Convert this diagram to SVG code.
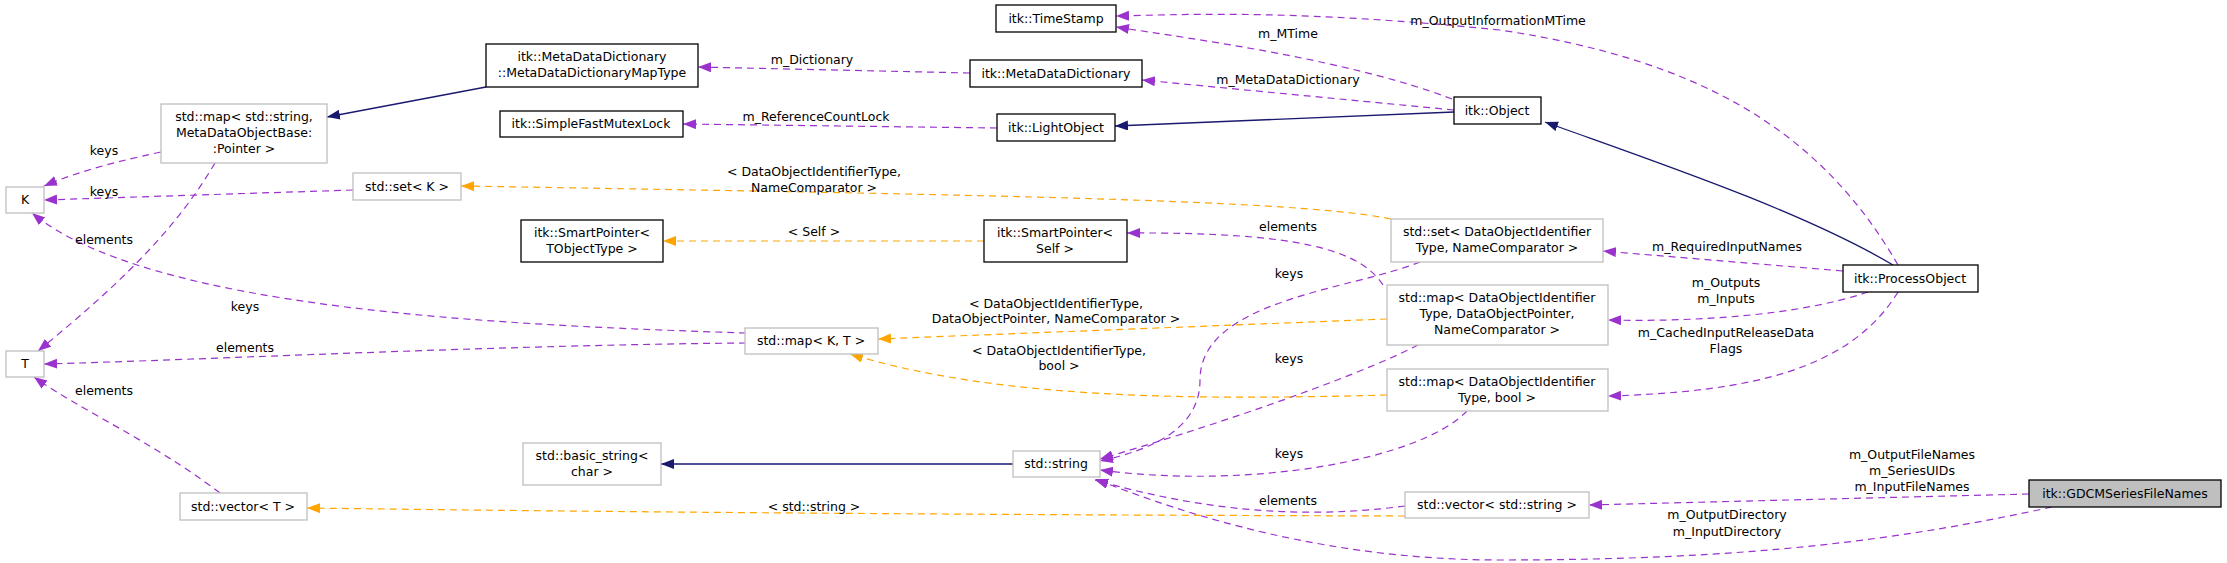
<svg xmlns="http://www.w3.org/2000/svg" width="2227" height="563" viewBox="0 0 2227 563">
<style>
text{font-family:"DejaVu Sans","Liberation Sans",sans-serif;font-size:12.5px;fill:#000}
.n text{text-anchor:middle}
.l{text-anchor:middle}
.b{fill:#fff;stroke:#000;stroke-width:1.3}
.g{fill:#fff;stroke:#bfbfbf;stroke-width:1.3}
.cur{fill:#bfbfbf;stroke:#000;stroke-width:1.3}
.p{fill:none;stroke:#9a32cd;stroke-width:1.2;stroke-dasharray:7,5;marker-end:url(#ap)}
.o{fill:none;stroke:#ffa500;stroke-width:1.2;stroke-dasharray:7,5;marker-end:url(#ao)}
.v{fill:none;stroke:#191970;stroke-width:1.3;marker-end:url(#av)}
</style>
<defs>
<marker id="ap" markerUnits="userSpaceOnUse" markerWidth="14" markerHeight="12" refX="13" refY="5" orient="auto"><path d="M0,0L13,5L0,10Z" fill="#9a32cd"/></marker>
<marker id="ao" markerUnits="userSpaceOnUse" markerWidth="14" markerHeight="12" refX="13" refY="5" orient="auto"><path d="M0,0L13,5L0,10Z" fill="#ffa500"/></marker>
<marker id="av" markerUnits="userSpaceOnUse" markerWidth="14" markerHeight="12" refX="13" refY="5" orient="auto"><path d="M0,0L13,5L0,10Z" fill="#191970"/></marker>
</defs>
<rect width="2227" height="563" fill="#fff"/>
<g id="connectors">
<path class="p" d="M970,73 L698,67"/>
<path class="v" d="M486,87 L327,117"/>
<path class="p" d="M997,128 L683,124"/>
<path class="p" d="M1452,99 C1350,60 1200,40 1116,27"/>
<path class="p" d="M1454,110 L1142,80"/>
<path class="v" d="M1454,112 L1115,126"/>
<path class="v" d="M1893,265 C1800,210 1650,160 1545,122"/>
<path class="p" d="M1898,265 C1820,130 1700,60 1500,30 C1300,10 1200,14 1116,16"/>
<path class="p" d="M1843,271 L1603,251"/>
<path class="p" d="M1868,292 C1800,315 1700,322 1608,320"/>
<path class="p" d="M1898,292 C1850,370 1750,392 1608,396"/>
<path class="p" d="M2029,494 L1589,505"/>
<path class="p" d="M2052,507 C1900,540 1750,560 1500,560 C1300,560 1150,500 1095,479"/>
<path class="o" d="M1391,219 C1300,200 1000,195 461,186"/>
<path class="p" d="M1383,285 C1360,250 1300,232 1127,233"/>
<path class="p" d="M1420,262 C1350,290 1200,300 1200,380 C1200,430 1150,450 1100,461"/>
<path class="p" d="M1418,345 C1350,380 1200,430 1100,459"/>
<path class="p" d="M1467,411 C1420,460 1250,490 1100,470"/>
<path class="p" d="M1405,506 C1300,520 1200,510 1095,480"/>
<path class="o" d="M984,241 L663,241"/>
<path class="o" d="M1387,319 L878,339"/>
<path class="o" d="M1387,395 C1200,400 1000,400 850,354"/>
<path class="v" d="M1013,464 L661,464"/>
<path class="o" d="M1405,516 C1000,515 600,512 307,508"/>
<path class="p" d="M353,190 L44,200"/>
<path class="p" d="M161,152 C100,165 70,175 44,186"/>
<path class="p" d="M215,163 C170,240 100,300 38,351"/>
<path class="p" d="M746,333 C500,325 150,310 32,213"/>
<path class="p" d="M746,343 C500,345 200,360 44,364"/>
<path class="p" d="M220,493 C150,440 80,410 34,377"/>
</g>
<g id="edge-labels">
<text class="l" x="812" y="64">m_Dictionary</text>
<text class="l" x="816" y="121">m_ReferenceCountLock</text>
<text class="l" x="1288" y="38">m_MTime</text>
<text class="l" x="1288" y="84">m_MetaDataDictionary</text>
<text class="l" x="1498" y="25">m_OutputInformationMTime</text>
<text class="l" x="814" y="176">&lt; DataObjectIdentifierType,</text>
<text class="l" x="814" y="192">NameComparator &gt;</text>
<text class="l" x="814" y="236">&lt; Self &gt;</text>
<text class="l" x="1288" y="231">elements</text>
<text class="l" x="1289" y="278">keys</text>
<text class="l" x="1727" y="251">m_RequiredInputNames</text>
<text class="l" x="1726" y="287">m_Outputs</text>
<text class="l" x="1726" y="303">m_Inputs</text>
<text class="l" x="1726" y="337">m_CachedInputReleaseData</text>
<text class="l" x="1726" y="353">Flags</text>
<text class="l" x="1056" y="308">&lt; DataObjectIdentifierType,</text>
<text class="l" x="1056" y="323">DataObjectPointer, NameComparator &gt;</text>
<text class="l" x="1059" y="355">&lt; DataObjectIdentifierType,</text>
<text class="l" x="1059" y="370">bool &gt;</text>
<text class="l" x="1289" y="363">keys</text>
<text class="l" x="1289" y="458">keys</text>
<text class="l" x="1288" y="505">elements</text>
<text class="l" x="814" y="511">&lt; std::string &gt;</text>
<text class="l" x="1912" y="459">m_OutputFileNames</text>
<text class="l" x="1912" y="475">m_SeriesUIDs</text>
<text class="l" x="1912" y="491">m_InputFileNames</text>
<text class="l" x="1727" y="519">m_OutputDirectory</text>
<text class="l" x="1727" y="536">m_InputDirectory</text>
<text class="l" x="104" y="155">keys</text>
<text class="l" x="104" y="196">keys</text>
<text class="l" x="104" y="244">elements</text>
<text class="l" x="245" y="311">keys</text>
<text class="l" x="245" y="352">elements</text>
<text class="l" x="104" y="395">elements</text>
</g>
<g id="n-maptype" class="n"><rect class="b" x="486" y="44" width="212" height="43"/><text x="592" y="61">itk::MetaDataDictionary</text><text x="592" y="77">::MetaDataDictionaryMapType</text></g>
<g id="n-stdmap-string" class="n"><rect class="g" x="161" y="104" width="166" height="59"/><text x="244" y="121">std::map&lt; std::string,</text><text x="244" y="137">MetaDataObjectBase:</text><text x="244" y="153">:Pointer &gt;</text></g>
<g id="n-K" class="n"><rect class="g" x="6" y="187" width="38" height="26"/><text x="25" y="204">K</text></g>
<g id="n-T" class="n"><rect class="g" x="6" y="351" width="38" height="26"/><text x="25" y="368">T</text></g>
<g id="n-mutex" class="n"><rect class="b" x="500" y="111" width="183" height="26"/><text x="591" y="128">itk::SimpleFastMutexLock</text></g>
<g id="n-setK" class="n"><rect class="g" x="353" y="173" width="108" height="27"/><text x="407" y="191">std::set&lt; K &gt;</text></g>
<g id="n-sp-tobj" class="n"><rect class="b" x="521" y="220" width="142" height="42"/><text x="592" y="237">itk::SmartPointer&lt;</text><text x="592" y="253">TObjectType &gt;</text></g>
<g id="n-basicstring" class="n"><rect class="g" x="523" y="443" width="138" height="42"/><text x="592" y="460">std::basic_string&lt;</text><text x="592" y="476">char &gt;</text></g>
<g id="n-vectorT" class="n"><rect class="g" x="180" y="493" width="127" height="27"/><text x="243" y="511">std::vector&lt; T &gt;</text></g>
<g id="n-timestamp" class="n"><rect class="b" x="996" y="5" width="120" height="27"/><text x="1056" y="23">itk::TimeStamp</text></g>
<g id="n-mdd" class="n"><rect class="b" x="970" y="60" width="172" height="27"/><text x="1056" y="78">itk::MetaDataDictionary</text></g>
<g id="n-lightobject" class="n"><rect class="b" x="997" y="114" width="118" height="27"/><text x="1056" y="132">itk::LightObject</text></g>
<g id="n-object" class="n"><rect class="b" x="1454" y="97" width="87" height="27"/><text x="1497" y="115">itk::Object</text></g>
<g id="n-sp-self" class="n"><rect class="b" x="984" y="220" width="143" height="42"/><text x="1055" y="237">itk::SmartPointer&lt;</text><text x="1055" y="253">Self &gt;</text></g>
<g id="n-mapKT" class="n"><rect class="g" x="745" y="328" width="133" height="26"/><text x="811" y="345">std::map&lt; K, T &gt;</text></g>
<g id="n-stdstring" class="n"><rect class="g" x="1013" y="451" width="87" height="26"/><text x="1056" y="468">std::string</text></g>
<g id="n-setDOI" class="n"><rect class="g" x="1391" y="219" width="212" height="43"/><text x="1497" y="236">std::set&lt; DataObjectIdentifier</text><text x="1497" y="252">Type, NameComparator &gt;</text></g>
<g id="n-mapDOIptr" class="n"><rect class="g" x="1387" y="285" width="221" height="60"/><text x="1497" y="302">std::map&lt; DataObjectIdentifier</text><text x="1497" y="318">Type, DataObjectPointer,</text><text x="1497" y="334">NameComparator &gt;</text></g>
<g id="n-mapDOIbool" class="n"><rect class="g" x="1387" y="369" width="221" height="42"/><text x="1497" y="386">std::map&lt; DataObjectIdentifier</text><text x="1497" y="402">Type, bool &gt;</text></g>
<g id="n-vecstring" class="n"><rect class="g" x="1405" y="492" width="184" height="26"/><text x="1497" y="509">std::vector&lt; std::string &gt;</text></g>
<g id="n-processobject" class="n"><rect class="b" x="1843" y="265" width="135" height="27"/><text x="1910" y="283">itk::ProcessObject</text></g>
<g id="n-gdcm" class="n"><rect class="cur" x="2029" y="480" width="192" height="27"/><text x="2125" y="498">itk::GDCMSeriesFileNames</text></g>
</svg>
